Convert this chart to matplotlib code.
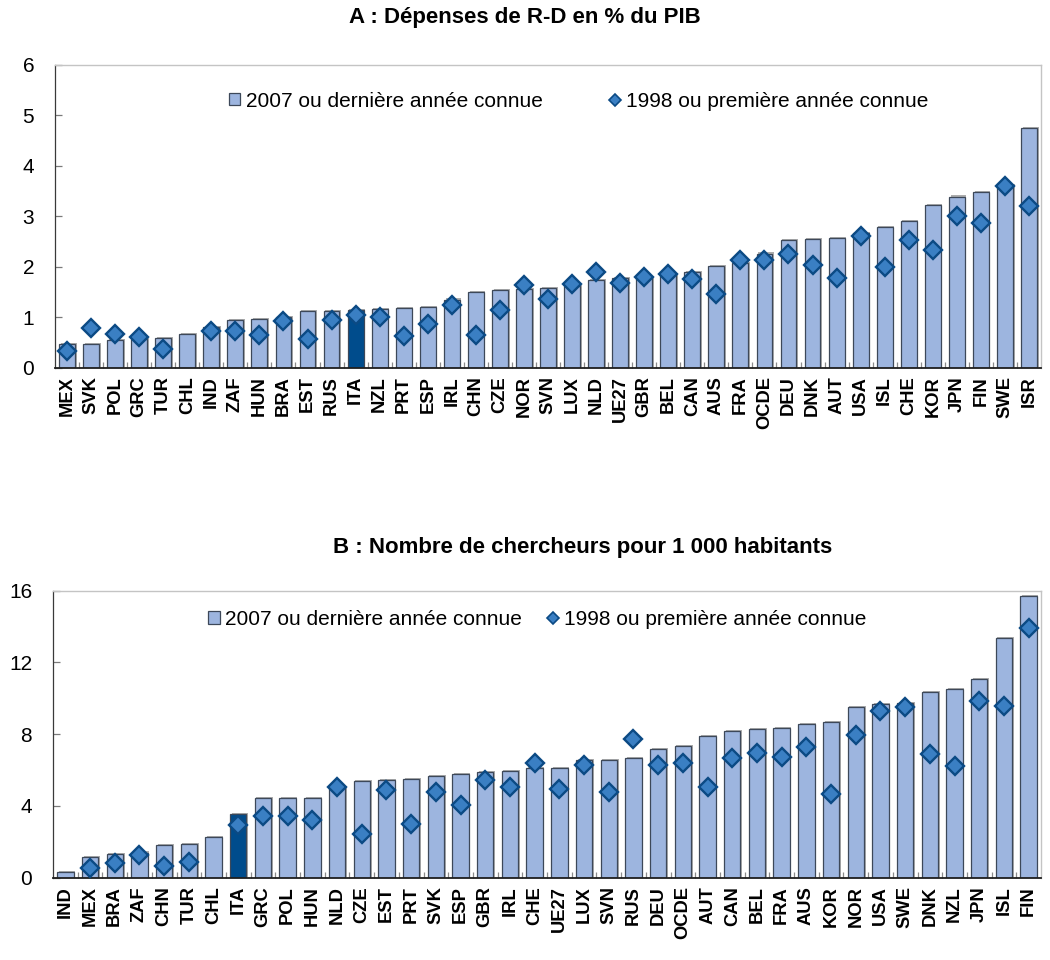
import matplotlib
matplotlib.use("Agg")
import matplotlib.pyplot as plt
import matplotlib.patheffects as pe
from matplotlib.patches import Patch
from matplotlib.lines import Line2D
import numpy as np

plt.rcParams['font.family'] = ['Liberation Sans', 'DejaVu Sans']

# Panel A: R&D spending, % of GDP
countries_a = ["MEX", "SVK", "POL", "GRC", "TUR", "CHL", "IND", "ZAF", "HUN", "BRA",
               "EST", "RUS", "ITA", "NZL", "PRT", "ESP", "IRL", "CHN", "CZE", "NOR",
               "SVN", "LUX", "NLD", "UE27", "GBR", "BEL", "CAN", "AUS", "FRA", "OCDE",
               "DEU", "DNK", "AUT", "USA", "ISL", "CHE", "KOR", "JPN", "FIN", "SWE", "ISR"]
rd_latest = [0.47, 0.47, 0.55, 0.57, 0.58, 0.67, 0.80, 0.94, 0.96, 1.00,
             1.12, 1.12, 1.14, 1.16, 1.18, 1.20, 1.35, 1.49, 1.54, 1.56,
             1.57, 1.62, 1.73, 1.77, 1.79, 1.86, 1.89, 2.01, 2.08, 2.26,
             2.53, 2.54, 2.56, 2.66, 2.78, 2.90, 3.22, 3.39, 3.47, 3.62, 4.74]
rd_first = [0.34, 0.78, 0.67, 0.60, 0.37, None, 0.72, 0.72, 0.64, 0.93,
            0.57, 0.94, 1.04, 1.00, 0.63, 0.86, 1.24, 0.64, 1.14, 1.64,
            1.36, 1.65, 1.90, 1.67, 1.79, 1.86, 1.76, 1.46, 2.14, 2.13,
            2.26, 2.04, 1.77, 2.61, 2.00, 2.53, 2.33, 3.00, 2.86, 3.60, 3.21]

# Panel B: researchers per 1 000 inhabitants
countries_b = ["IND", "MEX", "BRA", "ZAF", "CHN", "TUR", "CHL", "ITA", "GRC", "POL",
               "HUN", "NLD", "CZE", "EST", "PRT", "SVK", "ESP", "GBR", "IRL", "CHE",
               "UE27", "LUX", "SVN", "RUS", "DEU", "OCDE", "AUT", "CAN", "BEL", "FRA",
               "AUS", "KOR", "NOR", "USA", "SWE", "DNK", "NZL", "JPN", "ISL", "FIN"]
res_latest = [0.30, 1.17, 1.30, 1.40, 1.84, 1.90, 2.29, 3.55, 4.42, 4.42,
              4.46, 5.05, 5.37, 5.43, 5.48, 5.65, 5.80, 5.87, 5.95, 6.10,
              6.10, 6.56, 6.56, 6.65, 7.17, 7.36, 7.88, 8.16, 8.27, 8.34,
              8.56, 8.66, 9.50, 9.66, 9.72, 10.35, 10.50, 11.08, 13.37, 15.70]
res_first = [None, 0.52, 0.82, 1.25, 0.66, 0.86, None, 2.92, 3.44, 3.44,
             3.19, 5.04, 2.43, 4.91, 3.01, 4.78, 4.03, 5.46, 5.05, 6.40,
             4.97, 6.27, 4.79, 7.73, 6.28, 6.37, 5.07, 6.65, 6.97, 6.71,
             7.30, 4.65, 7.94, 9.32, 9.51, 6.92, 6.24, 9.85, 9.57, 13.94]

label_latest = "2007 ou dernière année connue"
label_first = "1998 ou première année connue"
title_a = "A : Dépenses de R-D en % du PIB"
title_b = "B : Nombre de chercheurs pour 1 000 habitants"

BAR = "#9db5df"
BAR_EDGE = "#3d4859"
HIGHLIGHT = "#004c8c"
DIAMOND = "#3a7fc3"
DIAMOND_EDGE = "#0b4a84"


def draw_panel(ax, cats, latest, first, ymax, ystep, leg_center, colspacing):
    x = np.arange(len(cats))
    colors = [HIGHLIGHT if c == "ITA" else BAR for c in cats]
    bars = ax.bar(x, latest, width=0.66, color=colors, edgecolor=BAR_EDGE,
                  linewidth=0.9, zorder=2)
    for b in bars:
        b.set_path_effects([pe.SimplePatchShadow(offset=(1.2, 0.8),
                                                 shadow_rgbFace="#8a8a8a", alpha=0.7),
                            pe.Normal()])
    y1 = np.array([np.nan if v is None else v for v in first], dtype=float)
    ax.plot(x, y1, ls="none", marker="D", ms=9.3, mfc=DIAMOND, mec=DIAMOND_EDGE,
            mew=1.7, zorder=3)

    ax.set_xlim(-0.5, len(cats) - 0.5)
    ax.set_ylim(0, ymax)
    ax.set_yticks(np.arange(0, ymax + 0.001, ystep))
    ax.set_xticks(x)
    ax.set_xticklabels(cats, rotation=90, fontweight="bold", fontsize=13.2)
    ax.set_xticks(np.arange(0.5, len(cats) - 1, 1.0), minor=True)
    ax.tick_params(axis="x", which="major", length=0, pad=6)
    ax.tick_params(axis="x", which="minor", direction="in", length=4,
                   color="#8c8c8c", width=0.9)
    ax.tick_params(axis="y", direction="in", length=5, color="#7a7a7a",
                   width=0.9, pad=15, labelsize=15)
    for side in ("top", "right"):
        ax.spines[side].set_color("#c4c4c4")
        ax.spines[side].set_linewidth(1.0)
    ax.spines["left"].set_color("#3a3a3a")
    ax.spines["left"].set_linewidth(0.9)
    ax.spines["bottom"].set_color("#1e1e1e")
    ax.spines["bottom"].set_linewidth(1.3)

    handles = [Patch(facecolor=BAR, edgecolor=BAR_EDGE, linewidth=0.9),
               Line2D([], [], ls="none", marker="D", ms=6.5, mfc=DIAMOND,
                      mec=DIAMOND_EDGE, mew=1.2)]
    ax.legend(handles, [label_latest, label_first], ncol=2, frameon=False,
              loc="center", bbox_to_anchor=leg_center, fontsize=15,
              handlelength=0.55, handleheight=0.55, handletextpad=0.25,
              columnspacing=colspacing, borderpad=0, borderaxespad=0)


fig = plt.figure(figsize=(10.5, 9.6), dpi=100)
ax_a = fig.add_axes([55 / 1050, 1 - 367.7 / 960, 986 / 1050, 303 / 960])
ax_b = fig.add_axes([53 / 1050, 1 - 877.7 / 960, 988 / 1050, 287 / 960])

draw_panel(ax_a, countries_a, rd_latest, rd_first, 6, 1, (0.531, 0.88), 3.2)
draw_panel(ax_b, countries_b, res_latest, res_first, 16, 4, (0.49, 0.90), 1.2)

fig.text(525 / 1050, 1 - 18 / 960, title_a, ha="center", va="center",
         fontsize=16, fontweight="bold")
fig.text(583 / 1050, 1 - 548 / 960, title_b, ha="center", va="center",
         fontsize=16, fontweight="bold")

fig.savefig("out.png", dpi=100, facecolor="white")
